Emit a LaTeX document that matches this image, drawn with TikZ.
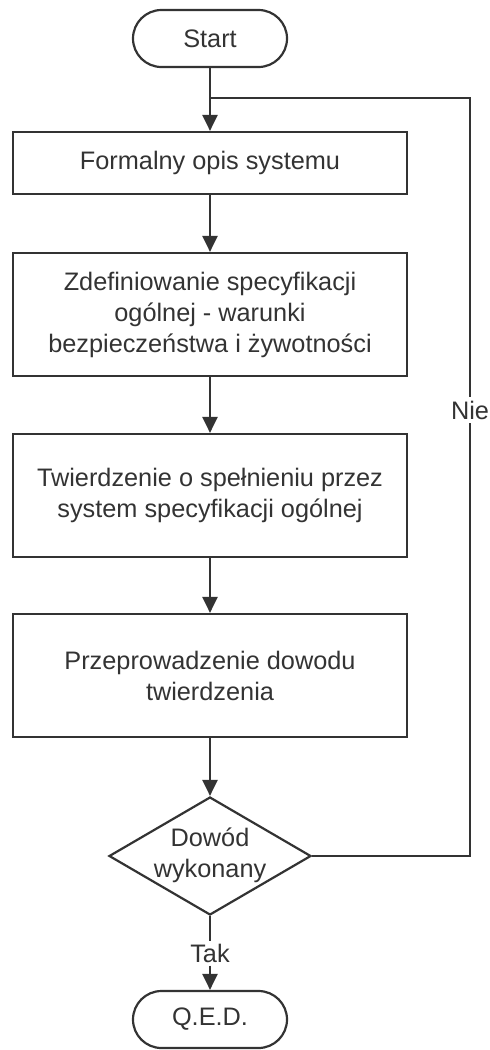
\documentclass[tikz,border=0pt]{standalone}
\usepackage{fontspec}
\setmainfont{Liberation Sans}
\usetikzlibrary{arrows.meta,shapes.geometric}
\definecolor{ink}{HTML}{333333}
\begin{document}
\begin{tikzpicture}[x=1pt,y=-1pt,
  every node/.style={font=\fontsize{25.3}{31}\selectfont, text=ink},
  line/.style={draw=ink, line width=2.2pt},
  arr/.style={line, -{Triangle[length=16pt,width=15pt]}},
  terminal/.style={line, rectangle, rounded corners=28.5pt, minimum width=154pt, minimum height=57pt, inner sep=0pt},
  process/.style={line, rectangle, minimum width=394pt, align=center, inner sep=0pt},
  decision/.style={line, diamond, minimum width=202pt, minimum height=118pt, inner sep=0pt},
  tag/.style={fill=white, inner sep=4pt}
]
\useasboundingbox (0,0) rectangle (490,1050);

% main column
\node[terminal] (start) at (210,38.5) {Start};
\node[process, minimum height=62pt] (b1) at (210,163) {Formalny opis systemu};
\node[process, minimum height=123pt] (b2) at (210,314.5)
  {Zdefiniowanie specyfikacji\\ogólnej - warunki\\bezpieczeństwa i żywotności};
\node[process, minimum height=123pt] (b3) at (210,495.5)
  {Twierdzenie o spełnieniu przez\\system specyfikacji ogólnej};
\node[process, minimum height=123pt] (b4) at (210,675.5)
  {Przeprowadzenie dowodu\\twierdzenia};
\node[decision] (d) at (210,856) {};
\node[align=center] (dtext) at (210,855) {Dowód\\wykonany};
\node[terminal] (qed) at (210,1019.5) {Q.E.D.};

% loop-back route
\coordinate (j) at (210,98);
\coordinate (rt) at (470,98);
\coordinate (rb) at (470,856);

% connectors
\draw[arr] (start) -- (b1);
\draw[arr] (b1) -- (b2);
\draw[arr] (b2) -- (b3);
\draw[arr] (b3) -- (b4);
\draw[arr] (b4) -- (d);
\draw[line] (d.east) -- (rb) -- (rt) -- (j);
\node[tag] (nie) at (470,410) {Nie};
\node[tag, inner sep=3pt] (tak) at (210,953) {Tak};
\draw[line] (d.south) -- (tak);
\draw[arr] (tak) -- (qed);
\end{tikzpicture}
\end{document}
